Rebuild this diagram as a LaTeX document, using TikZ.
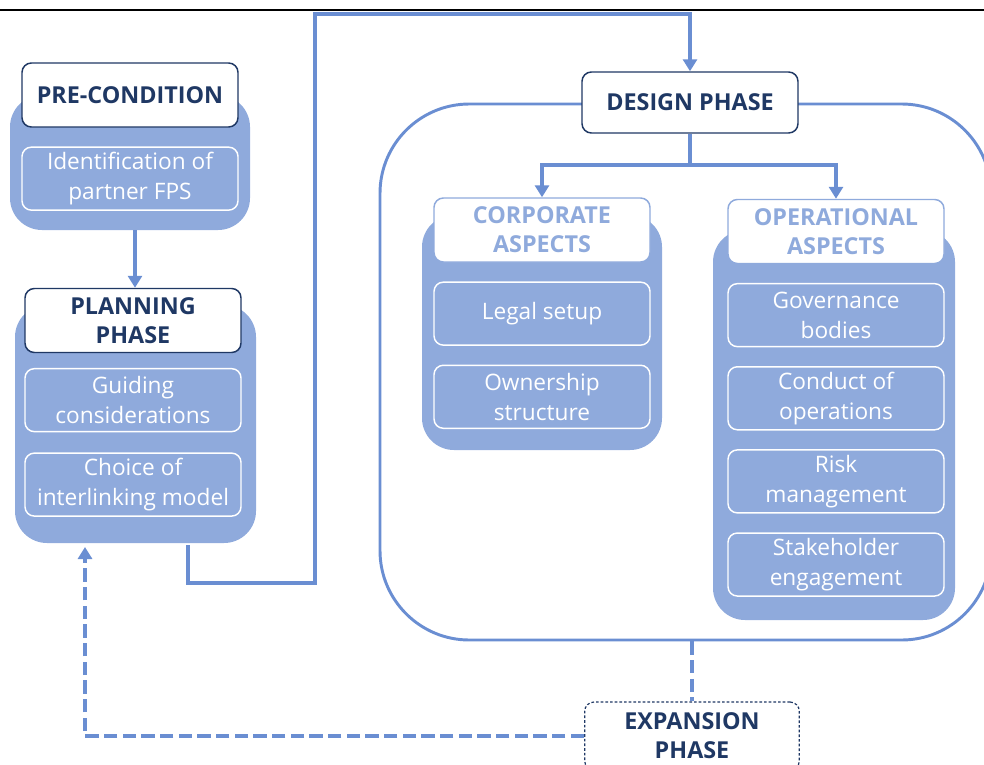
\documentclass[tikz,border=0pt]{standalone}
\usepackage{fontspec}
\setmainfont{Open Sans}
\usetikzlibrary{positioning,arrows.meta,fit}
\definecolor{phaseblue}{HTML}{8FAADC}
\definecolor{linkblue}{HTML}{6A8ED2}
\definecolor{navy}{HTML}{1F3864}
\tikzset{
  grpbg/.style={fill=phaseblue,rounded corners=24pt,inner sep=0pt},
  headbox/.style={draw=navy,line width=1.1pt,fill=white,rounded corners=7pt,text=navy,
    font=\fontsize{17.5}{21.75}\selectfont\bfseries,align=center,
    minimum width=162pt,minimum height=48pt,inner sep=2pt},
  asphead/.style={headbox,draw=phaseblue,text=phaseblue},
  subbox/.style={draw=white,line width=1.1pt,rounded corners=7pt,text=white,
    font=\fontsize{17}{22.5}\selectfont,align=center,
    minimum width=162pt,minimum height=47.25pt,inner sep=2pt},
  link/.style={draw=linkblue,line width=3pt},
  dashlink/.style={link,dash pattern=on 10pt off 4pt},
}
\begin{document}
\begin{tikzpicture}[x=0.75pt,y=-0.75pt,>={Triangle[length=9pt,width=10.5pt]},node distance=14pt]
\clip (0,0) rectangle (984,764);
\draw[line width=2.2pt] (0,10) -- (984,10);
% group backgrounds
\node[grpbg,fit={(10,95) (250,230)}] (prebg) {};
\node[grpbg,fit={(15,305) (256,543)}] (planbg) {};
\node[grpbg,fit={(422,215) (662,450)}] (corpbg) {};
\node[grpbg,fit={(713,230) (955,620)}] (operbg) {};
\node[draw=linkblue,line width=2.2pt,rounded corners=67pt,inner sep=0pt,fit={(380,104) (991,640)}] (frame) {};
% pre-condition
\node[headbox] (pre) at (130,95) {PRE-CONDITION};
\node[subbox,below=of pre] (idfps) {Identification of\\partner FPS};
% planning
\node[headbox] (plan) at (133,320.5) {PLANNING\\PHASE};
\node[subbox,below=11pt of plan] (guide) {Guiding\\considerations};
\node[subbox,below=15pt of guide] (choice) {Choice of\\interlinking model};
% design
\node[headbox,minimum height=45.75pt] (design) at (690,102.5) {DESIGN PHASE};
\node[asphead] (corp) at (542,230) {CORPORATE\\ASPECTS};
\node[subbox,below=of corp] (legal) {Legal setup};
\node[subbox,below=of legal] (owner) {Ownership\\structure};
\node[asphead] (oper) at (836,231.5) {OPERATIONAL\\ASPECTS};
\node[subbox,below=of oper] (gov) {Governance\\bodies};
\node[subbox,below=of gov] (conduct) {Conduct of\\operations};
\node[subbox,below=of conduct] (risk) {Risk\\management};
\node[subbox,below=of risk] (stake) {Stakeholder\\engagement};
% expansion
\node[headbox,draw=navy,line width=0.9pt,dash pattern=on 2pt off 1.5pt,minimum width=161pt,minimum height=51pt] (exp) at (692,736) {EXPANSION\\PHASE};
\coordinate (planout) at (188,545);
\coordinate (planin) at (85,547);
\coordinate (split) at (690,165);
% connectors
\draw[link,->] (prebg.south -| 135,0) -- (plan.north -| 135,0);
\draw[link,->] (planout) -- (188,583) -- (315,583) -- (315,14) -| (design.north);
\draw[link] (design.south) -- (split);
\draw[link,->] (split) -| (corp.north);
\draw[link,->] (split) -| (oper.north);
\draw[dashlink] (exp.north |- frame.south) -- (exp.north);
\draw[dashlink,->] (exp.west) -| (planin);
\end{tikzpicture}
\end{document}
